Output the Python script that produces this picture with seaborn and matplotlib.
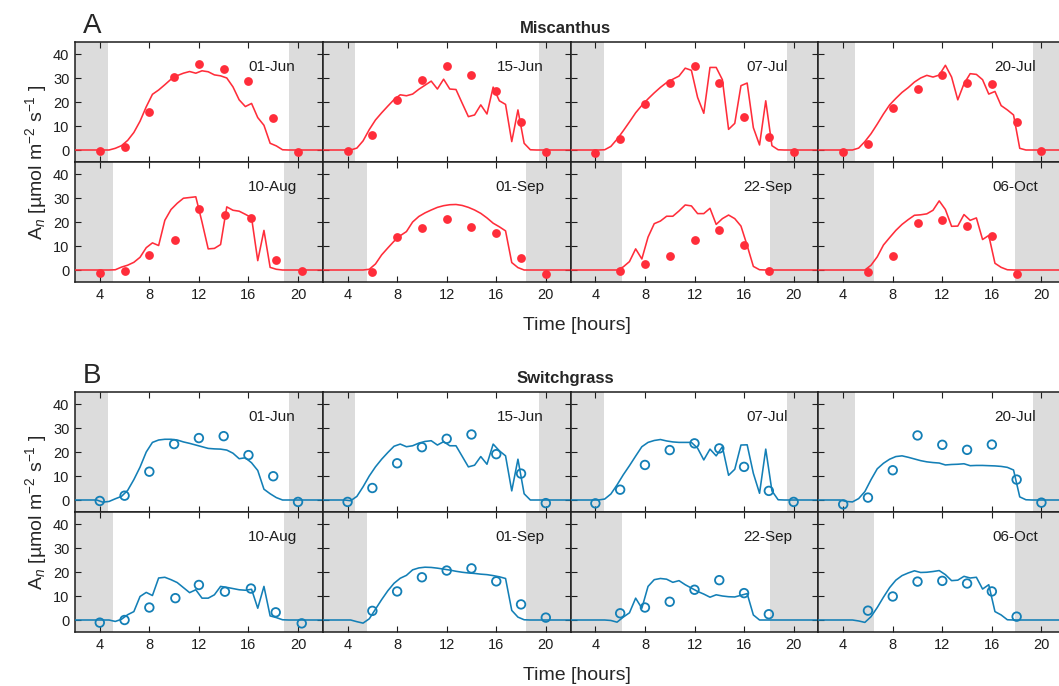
import numpy as np
import matplotlib
matplotlib.use("Agg")
import matplotlib.pyplot as plt
import seaborn as sns

# model output every half hour (x.25 / x.75), observations every 2 hours
t_model = np.arange(1.75, 22.26, 0.5)
obs_hours = [4, 6, 8, 10, 12, 14, 16, 18, 20]
obs_hours_aug10 = [4, 6, 8, 10.1, 12, 14.1, 16.2, 18.2, 20.3]

dates = ["01-Jun", "15-Jun", "07-Jul", "20-Jul", "10-Aug", "01-Sep", "22-Sep", "06-Oct"]
sunrise = [4.65, 4.58, 4.72, 4.93, 5.09, 5.55, 6.11, 6.46]
sunset = [19.30, 19.44, 19.47, 19.36, 18.88, 18.37, 18.10, 17.86]
nan = np.nan

# ---- Miscanthus: modelled An
mis_jun01 = [0, 0, 0, 0, 0, 0, 0,
             0.7, 1.8, 4.0, 7.3, 12.0, 18.0, 23.2, 25.0, 27.2, 29.5,
             31.0, 32.0, 32.7, 32.0, 33.0, 32.6, 31.3, 30.9, 30.0, 26.3,
             20.9, 18.1, 19.4, 13.5, 10.3, 2.8, 1.7, 0.1,
             0, 0, 0, 0, 0, 0, 0]
mis_jun15 = [0, 0, 0, 0, 0, 0,
             0.8, 3.8, 8.5, 12.5, 15.5, 18.3, 21.0, 23.0, 22.6, 23.3,
             25.3, 27.0, 28.7, 25.4, 29.5, 25.4, 25.2, 19.5, 13.9, 14.6,
             18.8, 15.0, 26.2, 20.5, 19.0, 3.5, 16.7, 2.8, 0.1,
             0, 0, 0, 0, 0, 0, 0]
mis_jul07 = [0, 0, 0, 0, 0, 0,
             0.1, 1.5, 4.5, 8.0, 11.7, 15.5, 18.6, 21.3, 23.8, 26.1,
             28.1, 29.5, 30.8, 34.1, 33.2, 21.9, 15.3, 34.4, 34.4, 29.3,
             8.6, 11.1, 26.8, 27.9, 9.3, 2.1, 20.5, 1.8, 0.1,
             0, 0, 0, 0, 0, 0, 0]
mis_jul20 = [0, 0, 0, 0, 0, 0, 0,
             0.8, 3.5, 6.8, 10.8, 15.0, 18.8, 21.5, 24.0, 26.0, 28.3,
             30.0, 31.1, 30.4, 31.2, 35.3, 30.4, 20.9, 27.6, 31.8, 31.5,
             29.3, 23.3, 24.4, 18.5, 16.7, 14.6, 0.7, 0.0,
             0, 0, 0, 0, 0, 0, 0]
mis_aug10 = [0, 0, 0, 0, 0, 0, 0,
             0.1, 1.2, 2.0, 3.2, 5.3, 9.3, 11.3, 10.2, 20.7, 25.2,
             27.8, 29.9, 30.2, 30.5, 20.0, 8.8, 9.0, 10.6, 26.3, 24.9,
             24.5, 23.2, 21.8, 3.9, 16.5, 1.1, 0.3, 0.0,
             0, 0, 0, 0, 0, 0, 0]
mis_sep01 = [0, 0, 0, 0, 0, 0, 0, 0,
             0.3, 2.5, 6.3, 9.2, 12.0, 14.3, 16.0, 20.0, 22.3, 23.8,
             25.0, 26.1, 26.8, 27.2, 27.3, 26.9, 26.1, 25.0, 23.6, 21.7,
             19.5, 18.0, 16.3, 3.1, 1.0, 0.0,
             0, 0, 0, 0, 0, 0, 0, 0]
mis_sep22 = [0, 0, 0, 0, 0, 0, 0, 0, 0,
             1.3, 3.5, 8.8, 4.6, 13.7, 19.3, 20.4, 22.4, 22.4, 24.6,
             27.1, 26.7, 23.5, 23.5, 25.7, 19.0, 21.4, 22.9, 21.4, 18.3,
             10.2, 1.5, 0.1,
             0, 0, 0, 0, 0, 0, 0, 0, 0, 0]
mis_oct06 = [0, 0, 0, 0, 0, 0, 0, 0, 0,
             2.0, 5.5, 10.4, 13.5, 16.5, 19.0, 21.0, 22.8, 23.0, 23.4,
             24.9, 28.8, 25.2, 18.2, 18.3, 23.1, 20.7, 21.7, 12.7, 14.4,
             2.8, 1.1, 0.1,
             0, 0, 0, 0, 0, 0, 0, 0, 0, 0]

# ---- Miscanthus: measured An
mis_obs_jun01 = [-0.4, 1.4, 15.7, 30.4, 35.8, 33.7, 28.6, 13.2, -1.0]
mis_obs_jun15 = [-0.4, 6.4, 21.0, 29.3, 34.8, 31.4, 24.7, 11.6, -0.7]
mis_obs_jul07 = [-1.4, 4.7, 19.1, 28.0, 35.0, 27.9, 13.9, 5.6, -0.8]
mis_obs_jul20 = [-1.0, 2.4, 17.4, 25.4, 31.4, 27.9, 27.7, 11.7, -0.4]
mis_obs_aug10 = [-1.4, -0.3, 6.3, 12.3, 25.3, 22.8, 21.8, 4.3, -0.3]
mis_obs_sep01 = [nan, -1.0, 13.6, 17.6, 21.1, 17.9, 15.5, 5.2, -1.8]
mis_obs_sep22 = [nan, -0.3, 2.5, 6.0, 12.7, 16.5, 10.5, -0.3, nan]
mis_obs_oct06 = [nan, -1.0, 6.0, 19.7, 20.7, 18.2, 14.1, -1.7, nan]

# ---- Switchgrass: modelled An
sw_jun01 = [0, 0, 0, 0, 0,
            -0.9, -0.6, 0.5, 1.5, 4.0, 8.5, 13.7, 20.0, 24.0, 25.0,
            25.3, 25.3, 25.0, 24.2, 23.6, 22.9, 22.2, 21.5, 21.3, 21.2,
            20.8, 19.5, 17.2, 17.6, 15.5, 12.3, 4.5, 2.6, 1.0, 0.0,
            0, 0, 0, 0, 0, 0, 0]
sw_jun15 = [0, 0, 0, 0, 0,
            -0.3, 1.5, 5.5, 10.0, 13.8, 17.0, 19.8, 22.4, 23.3, 22.2,
            22.6, 23.7, 24.4, 24.7, 22.9, 24.3, 22.6, 22.6, 18.2, 13.8,
            14.5, 18.1, 14.9, 23.3, 20.5, 18.4, 3.8, 17.0, 2.6, 0.0,
            0, 0, 0, 0, 0, 0, 0]
sw_jul07 = [0, 0, 0, 0, 0, 0,
            0.4, 2.5, 6.3, 10.5, 14.3, 18.3, 22.2, 24.0, 24.8, 25.2,
            24.6, 24.2, 24.0, 24.0, 24.0, 21.6, 16.7, 21.2, 18.4, 22.2,
            10.3, 12.8, 22.9, 23.0, 11.1, 2.8, 21.2, 3.8, 0.1,
            0, 0, 0, 0, 0, 0, 0]
sw_jul20 = [0, 0, 0, 0, 0,
            -0.6, -0.8, 0.6, 3.5, 8.5, 13.0, 15.3, 17.0, 18.1, 18.4,
            17.8, 17.1, 16.4, 15.9, 15.6, 15.4, 14.6, 14.8, 14.9, 15.1,
            14.3, 14.4, 14.4, 14.3, 14.2, 14.0, 13.6, 12.5, 1.3, 0.1,
            0, 0, 0, 0, 0, 0, 0]
sw_aug10 = [0, 0, 0, 0, 0, 0, 0,
            -0.6, 0.3, 2.2, 3.5, 9.8, 11.5, 10.2, 17.5, 17.8, 16.8,
            15.6, 13.5, 11.4, 12.6, 9.1, 9.1, 10.5, 14.0, 13.6, 13.1,
            12.6, 12.4, 12.8, 4.9, 14.0, 1.7, 1.0, 0.1,
            0, 0, 0, 0, 0, 0, 0]
sw_sep01 = [0, 0, 0, 0, 0, 0,
            -0.7, -1.3, 0.5, 4.5, 8.5, 12.2, 15.3, 17.4, 18.6, 20.9,
            21.7, 22.0, 21.9, 21.6, 21.2, 20.8, 20.3, 19.9, 19.6, 19.4,
            19.1, 18.9, 18.5, 18.0, 17.3, 4.0, 1.2, 0.1,
            0, 0, 0, 0, 0, 0, 0, 0]
sw_sep22 = [0, 0, 0, 0, 0, 0, 0,
            -0.2, -0.9, 1.2, 3.0, 9.1, 4.9, 14.0, 16.8, 17.3, 17.0,
            15.7, 16.4, 14.7, 13.3, 11.9, 10.8, 9.5, 10.5, 10.0, 9.7,
            9.6, 10.3, 11.0, 2.1, 0.0,
            0, 0, 0, 0, 0, 0, 0, 0, 0, 0]
sw_oct06 = [0, 0, 0, 0, 0, 0, 0,
            -0.4, -1.0, 1.4, 5.2, 9.5, 13.5, 16.6, 18.5, 19.6, 20.5,
            19.8, 19.9, 20.2, 20.6, 18.9, 16.4, 16.6, 18.2, 17.5, 17.8,
            12.9, 14.7, 3.5, 2.1, 0.1,
            0, 0, 0, 0, 0, 0, 0, 0, 0, 0]

# ---- Switchgrass: measured An
sw_obs_jun01 = [-0.4, 1.8, 11.8, 23.3, 25.8, 26.6, 18.7, 9.9, -0.8]
sw_obs_jun15 = [-0.8, 5.0, 15.3, 22.0, 25.5, 27.3, 19.1, 11.0, -1.3]
sw_obs_jul07 = [-1.4, 4.3, 14.6, 20.8, 23.6, 21.5, 13.8, 3.8, -0.8]
sw_obs_jul20 = [-1.8, 1.0, 12.4, 26.9, 23.0, 20.9, 23.1, 8.5, -1.1]
sw_obs_aug10 = [-1.1, 0.0, 5.2, 9.1, 14.6, 11.8, 13.1, 3.2, -1.4]
sw_obs_sep01 = [nan, 3.8, 11.9, 17.8, 20.6, 21.5, 16.1, 6.5, 1.0]
sw_obs_sep22 = [nan, 2.8, 5.2, 7.6, 12.6, 16.6, 11.2, 2.4, nan]
sw_obs_oct06 = [nan, 3.9, 9.8, 16.0, 16.3, 15.2, 11.9, 1.4, nan]

mis_model = [mis_jun01, mis_jun15, mis_jul07, mis_jul20, mis_aug10, mis_sep01, mis_sep22, mis_oct06]
mis_obs = [mis_obs_jun01, mis_obs_jun15, mis_obs_jul07, mis_obs_jul20,
           mis_obs_aug10, mis_obs_sep01, mis_obs_sep22, mis_obs_oct06]
sw_model = [sw_jun01, sw_jun15, sw_jul07, sw_jul20, sw_aug10, sw_sep01, sw_sep22, sw_oct06]
sw_obs = [sw_obs_jun01, sw_obs_jun15, sw_obs_jul07, sw_obs_jul20,
          sw_obs_aug10, sw_obs_sep01, sw_obs_sep22, sw_obs_oct06]

RED = "#ff2d3a"
BLUE = "#137fb6"
SHADE = "#dcdcdc"
INK = "#1e1e1e"

W, H = 1059, 686
COL_LEFT = [75, 322.8, 570.6, 818.4]
COL_W = 247.8
ROW_H = 120
YLABEL = "A$_{n}$ [µmol m$^{-2}$ s$^{-1}$ ]"


def set_config():
    sns.set_style("ticks")
    plt.rcParams["font.family"] = ["Liberation Sans", "DejaVu Sans"]
    plt.rcParams["mathtext.fontset"] = "custom"
    plt.rcParams["mathtext.rm"] = "Liberation Sans"
    plt.rcParams["mathtext.it"] = "Liberation Sans:italic"
    plt.rcParams["mathtext.bf"] = "Liberation Sans:bold"


def draw_block(fig, top, letter, title, models, observations, color, filled):
    for i, date in enumerate(dates):
        r, c = divmod(i, 4)
        ax = fig.add_axes([COL_LEFT[c] / W, 1 - (top + (r + 1) * ROW_H) / H,
                           COL_W / W, ROW_H / H])
        # night time shading
        ax.axvspan(2, sunrise[i], color=SHADE, lw=0, zorder=0.5)
        ax.axvspan(sunset[i], 22, color=SHADE, lw=0, zorder=0.5)

        sns.lineplot(x=t_model, y=models[i], ax=ax, color=color, lw=1.15, zorder=3)
        t_obs = obs_hours_aug10 if date == "10-Aug" else obs_hours
        if filled:
            sns.scatterplot(x=t_obs, y=observations[i], ax=ax, color=color,
                            s=40, linewidth=0, zorder=4)
        else:
            sns.scatterplot(x=t_obs, y=observations[i], ax=ax, facecolor="none",
                            edgecolor=color, s=38, linewidth=1.3, zorder=4)

        ax.set_xlim(2, 22)
        ax.set_ylim(-5, 45)
        ax.set_xticks([4, 8, 12, 16, 20])
        ax.set_yticks([0, 10, 20, 30, 40])
        ax.tick_params(direction="in", top=True, right=True, length=4, width=0.8,
                       color=INK, labelsize=10.5, labelcolor=INK, pad=4,
                       labelleft=(c == 0), labelbottom=(r == 1))
        for sp in ax.spines.values():
            sp.set_visible(True)
            sp.set_linewidth(1.1)
            sp.set_color(INK)
        ax.set_xlabel("")
        ax.set_ylabel("")
        ax.text(0.795, 0.79, date, transform=ax.transAxes, ha="center",
                va="center", fontsize=11, color=INK)

    fig.text(83 / W, 1 - (top - 9) / H, letter, fontsize=20, ha="left", va="baseline")
    fig.text(565 / W, 1 - (top - 9) / H, title, fontsize=12, fontweight="bold",
             ha="center", va="baseline")
    fig.text(577 / W, 1 - (top + 288) / H, "Time [hours]", fontsize=14,
             ha="center", va="baseline")
    fig.text(36 / W, 1 - (top + ROW_H) / H, YLABEL, rotation=90, fontsize=14,
             ha="center", va="center")


def main():
    set_config()
    fig = plt.figure(figsize=(W / 100, H / 100), dpi=100)
    draw_block(fig, 42, "A", "Miscanthus", mis_model, mis_obs, RED, True)
    draw_block(fig, 392, "B", "Switchgrass", sw_model, sw_obs, BLUE, False)
    fig.savefig("out.png", dpi=100)


if __name__ == "__main__":
    main()
